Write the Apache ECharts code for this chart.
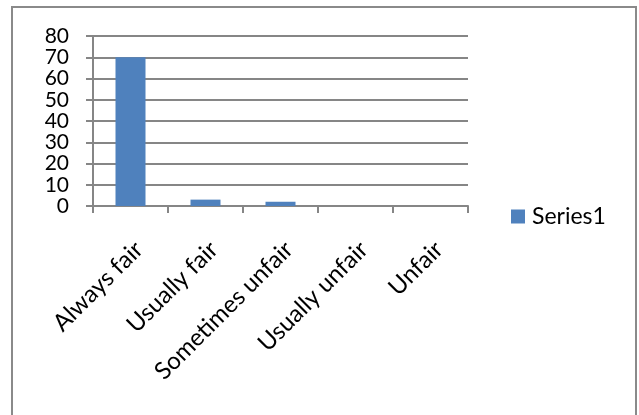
<!DOCTYPE html>
<html><head><meta charset="utf-8">
<script src="https://cdn.jsdelivr.net/npm/echarts@6/dist/echarts.min.js"></script>
<style>
html,body{margin:0;padding:0;background:#fff;}
#frame{position:absolute;left:11px;top:6px;width:626px;height:420px;border:2px solid #8a8a8a;box-sizing:border-box;}
#c{position:absolute;left:0;top:0;width:639px;height:415px;}
</style></head>
<body>
<div id="frame"></div>
<div id="c"></div>
<script>
const categories = ["Always fair", "Usually fair", "Sometimes unfair", "Usually unfair", "Unfair"];
const series1 = [70, 3, 2, 0, 0];
const yMin = 0, yMax = 80, yStep = 10;
const seriesName = "Series1";

const chart = echarts.init(document.getElementById('c'), null, {renderer: 'canvas'});
const font = 'Lato, "Open Sans", sans-serif';
chart.setOption({
  animation: false,
  backgroundColor: 'transparent',
  grid: {left: 93, right: 171, top: 36, bottom: 209, containLabel: false},
  legend: {
    data: [seriesName], orient: 'vertical', left: 506, top: 200,
    itemWidth: 14, itemHeight: 14, itemGap: 6,
    icon: 'rect',
    textStyle: {fontFamily: font, fontSize: 23, color: '#000', padding: [0,0,0,2]}
  },
  xAxis: {
    type: 'category', data: categories,
    axisLine: {show: true, lineStyle: {color: '#868686', width: 2}},
    axisTick: {show: true, length: 7, alignWithLabel: false, lineStyle: {color: '#868686', width: 2}},
    axisLabel: {rotate: 45, interval: 0, margin: 31, align: 'right', verticalAlign: 'top',
      fontFamily: font, fontSize: 24, color: '#000'},
    splitLine: {show: false}
  },
  yAxis: {
    type: 'value', min: yMin, max: yMax, interval: yStep,
    axisLine: {show: true, lineStyle: {color: '#868686', width: 2}},
    axisTick: {show: true, length: 7, inside: false, lineStyle: {color: '#868686', width: 2}},
    axisLabel: {margin: 24, fontFamily: font, fontSize: 21, color: '#000',
      showMinLabel: true, showMaxLabel: true},
    splitLine: {show: true, lineStyle: {color: '#868686', width: 2}}
  },
  series: [{
    name: seriesName, type: 'bar', data: series1, barWidth: '40%',
    itemStyle: {color: '#4f81bd'}
  }]
});
</script>
</body></html>
